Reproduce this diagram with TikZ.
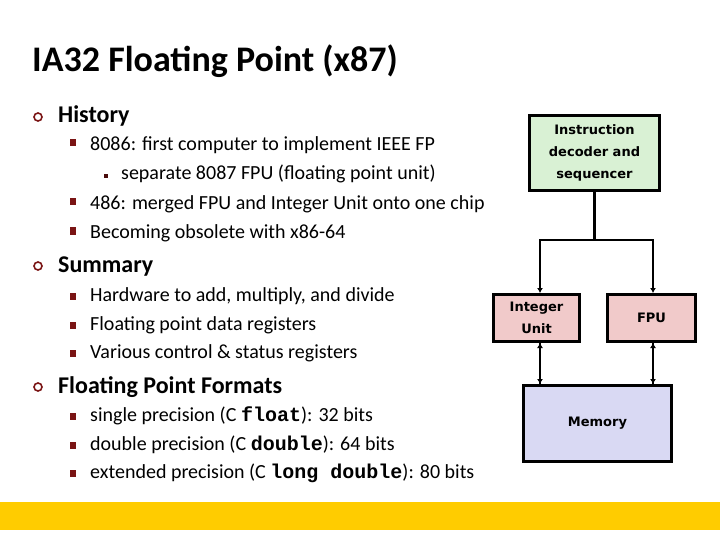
\documentclass[tikz,border=0pt]{standalone}
\usepackage{fontspec}
\setmainfont{Carlito}
\newfontfamily\codefont{Liberation Mono}
\newfontfamily\boxfont{DejaVu Sans}
\usetikzlibrary{arrows.meta}
\definecolor{barcolor}{HTML}{FFCC00}
\definecolor{bulletred}{HTML}{7A1414}
\definecolor{decodergreen}{HTML}{D9F1D4}
\definecolor{unitpink}{HTML}{F1CACA}
\definecolor{memoryblue}{HTML}{D9D9F3}
\begin{document}
\begin{tikzpicture}[x=1pt,y=-1pt]
    \tikzstyle{every node}+=[inner sep=0pt]
    \tikzstyle{slidetitle}=[anchor=base west,font=\fontsize{36}{40}\selectfont\bfseries]
    \tikzstyle{lvlone}=[anchor=base west,font=\fontsize{24}{28}\selectfont\bfseries]
    \tikzstyle{lvltwo}=[anchor=base west,font=\fontsize{20}{24}\selectfont]
    \tikzstyle{lvlthree}=[anchor=base west,font=\fontsize{20}{24}\selectfont]
    \tikzstyle{ring}=[draw=bulletred,line width=1.6pt]
    \tikzstyle{block}=[draw=black,line width=3pt,align=center,font=\boxfont\fontsize{13}{22}\selectfont\bfseries]
    \tikzstyle{wire}=[black,line width=2.5pt]
    \tikzstyle{tip}=[-{Latex[length=5pt,width=6pt]}]
    \useasboundingbox (0,0) rectangle (720,540);
    \fill [barcolor] (0,502) rectangle (720,530);
    \node [slidetitle] (title) at (32,72) {IA32 Floating Point (x87)};
    \draw [ring] (38,117) circle (4);
    \node [lvlone] (history) at (58,123) {History};
    \fill [bulletred] (69.5,139.5) rectangle (75.5,146.5);
    \node [lvltwo] (first) at (90,151) {8086: first computer to implement IEEE FP};
    \fill [bulletred!60!black] (104,174) rectangle (108,178);
    \node [lvlthree] (separate) at (121,180) {separate 8087 FPU (floating point unit)};
    \fill [bulletred] (69.5,198.5) rectangle (75.5,205.5);
    \node [lvltwo] (merged) at (90,209.5) {486: merged FPU and Integer Unit onto one chip};
    \fill [bulletred] (69.5,227.5) rectangle (75.5,234.5);
    \node [lvltwo] (obsolete) at (90,238.5) {Becoming obsolete with x86-64};
    \draw [ring] (38,266) circle (4);
    \node [lvlone] (summary) at (58,272) {Summary};
    \fill [bulletred] (69.5,292.5) rectangle (75.5,299.5);
    \node [lvltwo] (hardware) at (90,301) {Hardware to add, multiply, and divide};
    \fill [bulletred] (69.5,321.5) rectangle (75.5,328.5);
    \node [lvltwo] (dataregs) at (90,330) {Floating point data registers};
    \fill [bulletred] (69.5,349.5) rectangle (75.5,356.5);
    \node [lvltwo] (ctrlregs) at (90,358) {Various control \& status registers};
    \draw [ring] (38,387) circle (4);
    \node [lvlone] (formats) at (58,393) {Floating Point Formats};
    \fill [bulletred] (69.5,412.5) rectangle (75.5,419.5);
    \node [lvltwo] (single) at (90,421) {single precision (C {\codefont\bfseries float}): 32 bits};
    \fill [bulletred] (69.5,441.5) rectangle (75.5,448.5);
    \node [lvltwo] (double) at (90,450) {double precision (C {\codefont\bfseries double}): 64 bits};
    \fill [bulletred] (69.5,469.5) rectangle (75.5,476.5);
    \node [lvltwo] (extended) at (90,478) {extended precision (C {\codefont\bfseries long double}): 80 bits};
    \node [block,fill=decodergreen,minimum width=130,minimum height=75] (decoder) at (594.5,153) {Instruction\\decoder and\\sequencer};
    \node [block,fill=unitpink,minimum width=86,minimum height=47] (intunit) at (536.5,318) {Integer\\Unit};
    \node [block,fill=unitpink,minimum width=88,minimum height=47] (fpu) at (651.5,318) {FPU};
    \node [block,fill=memoryblue,minimum width=148,minimum height=76] (memory) at (597.5,423.5) {Memory};
    \coordinate (split) at (594.5,240);
    \coordinate (intdrop) at (540,240);
    \coordinate (fpudrop) at (653,240);
    \draw [wire] (decoder.south) -- (split);
    \draw [wire,tip] (split) -- (intdrop) -- (intdrop |- intunit.north);
    \draw [wire,tip] (split) -- (fpudrop) -- (fpudrop |- fpu.north);
    \draw [wire,tip] (intdrop |- memory.north) -- (intdrop |- intunit.south);
    \draw [wire,tip] (intdrop |- intunit.south) -- (intdrop |- memory.north);
    \draw [wire,tip] (fpudrop |- memory.north) -- (fpudrop |- fpu.south);
    \draw [wire,tip] (fpudrop |- fpu.south) -- (fpudrop |- memory.north);
\end{tikzpicture}
\end{document}
